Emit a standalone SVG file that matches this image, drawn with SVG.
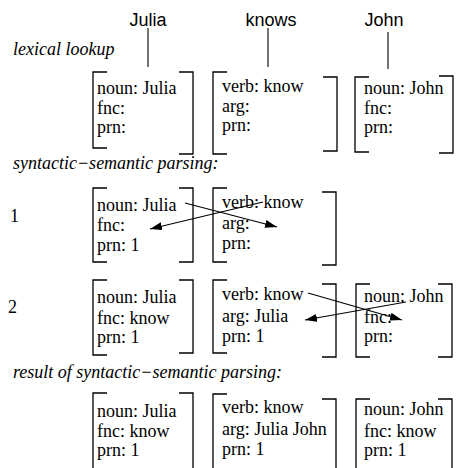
<svg xmlns="http://www.w3.org/2000/svg" width="458" height="468" viewBox="0 0 458 468">
<style>
.w{font-family:"Liberation Sans",Arial,sans-serif;font-size:18px;fill:#000}
.t{font-family:"Liberation Serif","Times New Roman",serif;font-size:18px;fill:#000}
.i{font-family:"Liberation Serif","Times New Roman",serif;font-size:18px;font-style:italic;fill:#000}
.b{fill:none;stroke:#000;stroke-width:1.3}
.c{stroke:#000;stroke-width:1.1;fill:none}
</style>
<defs>
<marker id="ah" viewBox="0 0 12 8" refX="12" refY="4" markerWidth="12" markerHeight="8" markerUnits="userSpaceOnUse" orient="auto">
<path d="M0,0 L12,4 L0,8 Z" fill="#000"/>
</marker>
</defs>
<rect width="458" height="468" fill="#fff"/>
<g id="words">
<text class="w" x="148" y="26" text-anchor="middle">Julia</text>
<text class="w" x="271" y="26" text-anchor="middle">knows</text>
<text class="w" x="384" y="26" text-anchor="middle">John</text>
<line class="c" x1="148" y1="28" x2="148" y2="67"/>
<line class="c" x1="268" y1="28" x2="268" y2="67"/>
<line class="c" x1="388" y1="32" x2="388" y2="69"/>
</g>
<g id="labels">
<text class="i" x="13" y="55">lexical lookup</text>
<text class="i" x="13" y="169">syntactic−semantic parsing:</text>
<text class="i" x="13" y="378">result of syntactic−semantic parsing:</text>
<text class="t" x="10" y="222">1</text>
<text class="t" x="8" y="313">2</text>
</g>
<g id="lex-julia">
<path class="b" d="M107,72 H93 V148 H107 M179,72 H193 V154 H179"/>
<text class="t" x="97" y="94">noun: Julia</text>
<text class="t" x="97" y="114">fnc:</text>
<text class="t" x="97" y="133">prn:</text>
</g>
<g id="lex-know">
<path class="b" d="M227,72 H213 V154 H227 M323,77 H337 V151 H323"/>
<text class="t" x="222" y="92">verb: know</text>
<text class="t" x="222" y="112">arg:</text>
<text class="t" x="222" y="131">prn:</text>
</g>
<g id="lex-john">
<path class="b" d="M369,77 H355 V152 H369 M439,76 H453 V153 H439"/>
<text class="t" x="364" y="94">noun: John</text>
<text class="t" x="364" y="114">fnc:</text>
<text class="t" x="364" y="133">prn:</text>
</g>
<g id="s1-julia">
<path class="b" d="M107,188 H93 V262 H107 M179,188 H193 V262 H179"/>
<text class="t" x="97" y="211">noun: Julia</text>
<text class="t" x="97" y="231">fnc:</text>
<text class="t" x="97" y="251">prn: 1</text>
</g>
<g id="s1-know">
<path class="b" d="M227,188 H213 V262 H227 M322,192 H336 V265 H322"/>
<text class="t" x="222" y="208">verb: know</text>
<text class="t" x="222" y="229">arg:</text>
<text class="t" x="222" y="249">prn:</text>
</g>
<g id="s2-julia">
<path class="b" d="M107,280 H93 V355 H107 M179,280 H193 V353 H179"/>
<text class="t" x="97" y="303">noun: Julia</text>
<text class="t" x="97" y="324">fnc: know</text>
<text class="t" x="97" y="343">prn: 1</text>
</g>
<g id="s2-know">
<path class="b" d="M227,280 H213 V353 H227 M322,284 H336 V357 H322"/>
<text class="t" x="222" y="300">verb: know</text>
<text class="t" x="222" y="322">arg: Julia</text>
<text class="t" x="222" y="342">prn: 1</text>
</g>
<g id="s2-john">
<path class="b" d="M370,284 H356 V357 H370 M438,284 H452 V357 H438"/>
<text class="t" x="364" y="302">noun: John</text>
<text class="t" x="364" y="323">fnc:</text>
<text class="t" x="364" y="342">prn:</text>
</g>
<g id="r-julia">
<path class="b" d="M107,393 H93 V470 M179,393 H193 V470"/>
<text class="t" x="97" y="417">noun: Julia</text>
<text class="t" x="97" y="437">fnc: know</text>
<text class="t" x="97" y="456">prn: 1</text>
</g>
<g id="r-know">
<path class="b" d="M227,394 H213 V470 M322,399 H336 V470"/>
<text class="t" x="222" y="413">verb: know</text>
<text class="t" x="222" y="435">arg: Julia John</text>
<text class="t" x="222" y="455">prn: 1</text>
</g>
<g id="r-john">
<path class="b" d="M370,399 H356 V470 M438,399 H452 V470"/>
<text class="t" x="364" y="415">noun: John</text>
<text class="t" x="364" y="437">fnc: know</text>
<text class="t" x="364" y="456">prn: 1</text>
</g>
<g id="connectors">
<line class="c" x1="185" y1="203" x2="277" y2="227" marker-end="url(#ah)"/>
<line class="c" x1="263" y1="202" x2="150" y2="229" marker-end="url(#ah)"/>
<line class="c" x1="308" y1="293" x2="402" y2="320" marker-end="url(#ah)"/>
<line class="c" x1="406" y1="302" x2="305" y2="320" marker-end="url(#ah)"/>
</g>
</svg>
